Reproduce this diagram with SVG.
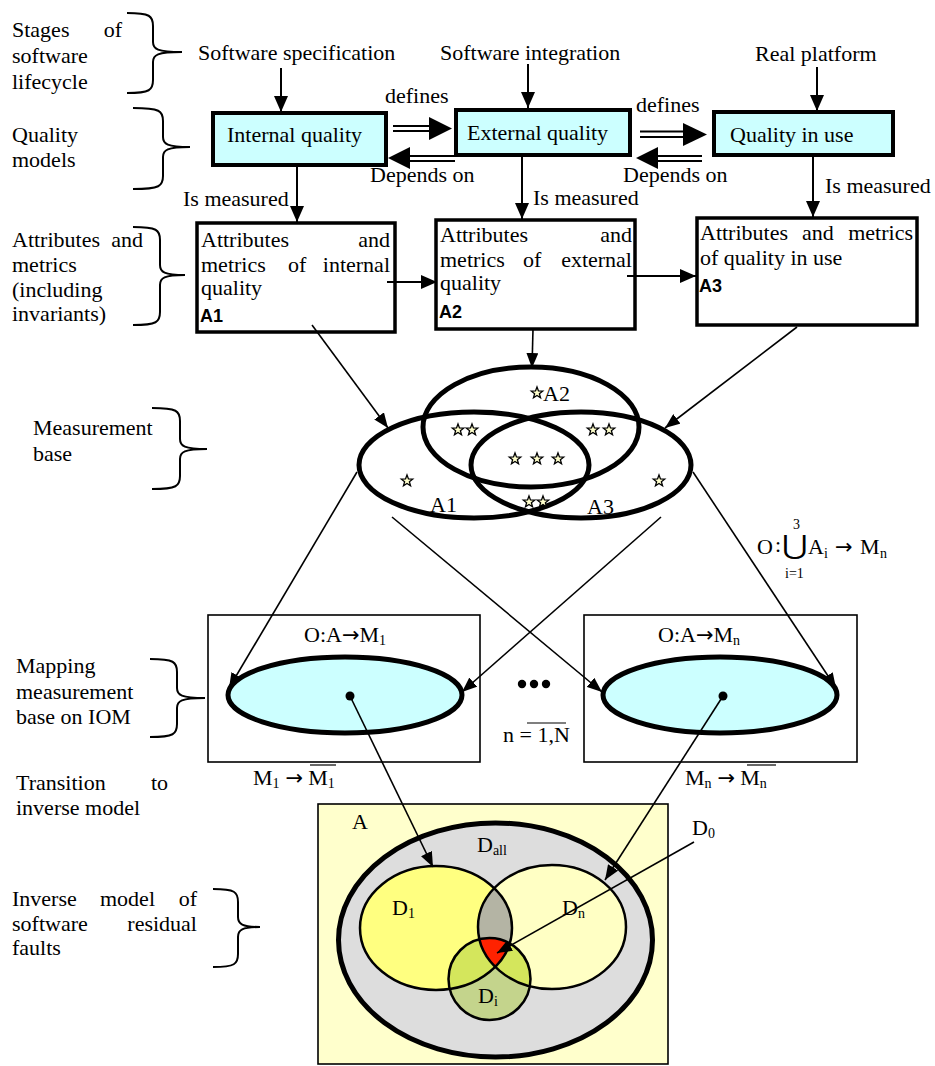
<svg xmlns="http://www.w3.org/2000/svg" width="935" height="1066" viewBox="0 0 935 1066">
<style>
text{font-family:"Liberation Serif","Times New Roman",serif;font-size:22px;fill:#000}
.sub{font-size:14px}
.arr{font-family:"DejaVu Sans",sans-serif;font-size:21px}
.bold{font-family:"Liberation Sans",Arial,sans-serif;font-weight:bold;font-size:18px}
.brace{fill:none;stroke:#000;stroke-width:2}
.qbox{fill:#CCFFFF;stroke:#000;stroke-width:4}
.abox{fill:#fff;stroke:#000;stroke-width:3.5}
.ln{fill:none;stroke:#000;stroke-width:2}
.thin{fill:none;stroke:#000;stroke-width:1.6}
.ell{fill:none;stroke:#000;stroke-width:5}
.map{fill:#CCFFFF;stroke:#000;stroke-width:5}
.mbox{fill:#fff;stroke:#000;stroke-width:1.6}
.star{fill:#FFFFCC;stroke:#000;stroke-width:1.3}
</style>
<defs>
<marker id="ah" markerUnits="userSpaceOnUse" markerWidth="16" markerHeight="14" refX="16" refY="7" orient="auto"><path d="M0,0 L16,7 L0,14 z" fill="#000"/></marker>
<marker id="as" markerUnits="userSpaceOnUse" markerWidth="15" markerHeight="12" refX="15" refY="6" orient="auto"><path d="M0,0 L15,6 L0,12 z" fill="#000"/></marker>
<polygon id="st" points="0,-6 1.47,-2.02 5.71,-1.85 2.38,0.77 3.53,4.85 0,2.5 -3.53,4.85 -2.38,0.77 -5.71,-1.85 -1.47,-2.02"/>
<clipPath id="cD1"><ellipse cx="436" cy="928" rx="76" ry="62"/></clipPath>
<clipPath id="cDn"><ellipse cx="552" cy="927" rx="74" ry="62"/></clipPath>
<clipPath id="cDi"><circle cx="489.5" cy="979" r="41"/></clipPath>
</defs>

<g id="left-labels">
<text x="12" y="37">Stages</text><text x="122" y="37" text-anchor="end">of</text>
<text x="12" y="63">software</text>
<text x="12" y="89">lifecycle</text>
<text x="12" y="142">Quality</text>
<text x="12" y="167">models</text>
<text x="12" y="247">Attributes</text><text x="143" y="247" text-anchor="end">and</text>
<text x="12" y="272">metrics</text>
<text x="12" y="297">(including</text>
<text x="12" y="321">invariants)</text>
<text x="33" y="435">Measurement</text>
<text x="33" y="461">base</text>
<text x="16" y="673">Mapping</text>
<text x="16" y="699">measurement</text>
<text x="16" y="724">base on IOM</text>
<text x="16" y="790">Transition</text><text x="168" y="790" text-anchor="end">to</text>
<text x="16" y="815">inverse model</text>
<text x="12" y="906">Inverse</text><text x="100" y="906">model</text><text x="197" y="906" text-anchor="end">of</text>
<text x="12" y="931">software</text><text x="197" y="931" text-anchor="end">residual</text>
<text x="12" y="955">faults</text>
</g>

<g id="braces">
<path class="brace" d="M127,13 C150,13 153,16 153,26 L153,42 C153,49 157,52 182,52 C157,52 153,55 153,62 L153,80 C153,90 150,93 127,93"/>
<path class="brace" d="M133,108 C160,108 163,111 163,121 L163,137 C163,144 167,147 190,147 C167,147 163,150 163,157 L163,176 C163,186 160,189 133,189"/>
<path class="brace" d="M133,227 C157,227 160,230 160,240 L160,265 C160,272 164,275 185,275 C164,275 160,278 160,285 L160,312 C160,322 157,325 133,325"/>
<path class="brace" d="M152,408 C177,408 180,411 180,421 L180,439 C180,446 184,449 207,449 C184,449 180,452 180,459 L180,476 C180,486 177,489 152,489"/>
<path class="brace" d="M150,659 C174,659 177,662 177,672 L177,688 C177,695 181,698 205,698 C181,698 177,701 177,708 L177,724 C177,734 174,737 150,737"/>
<path class="brace" d="M213,889 C235,889 238,892 238,902 L238,917 C238,924 242,927 260,927 C242,927 238,930 238,937 L238,954 C238,964 235,967 213,967"/>
</g>

<g id="stage-labels">
<text x="198" y="60">Software specification</text>
<text x="440" y="60">Software integration</text>
<text x="755" y="61">Real platform</text>
</g>

<g id="internal-quality">
<rect class="qbox" x="213" y="113" width="173" height="52"/>
<text x="227" y="142">Internal quality</text>
</g>
<g id="external-quality">
<rect class="qbox" x="456" y="110" width="174" height="45"/>
<text x="467" y="140">External quality</text>
</g>
<g id="quality-in-use">
<rect class="qbox" x="714" y="112" width="179" height="43"/>
<text x="730" y="142">Quality in use</text>
</g>

<g id="A1-box">
<rect class="abox" x="197" y="223" width="198" height="109"/>
<text x="201" y="247">Attributes</text><text x="390" y="247" text-anchor="end">and</text>
<text x="201" y="272">metrics</text><text x="288" y="272">of</text><text x="390" y="272" text-anchor="end">internal</text>
<text x="201" y="295">quality</text>
<text class="bold" x="200" y="322">A1</text>
</g>
<g id="A2-box">
<rect class="abox" x="436" y="220" width="199" height="109"/>
<text x="440" y="242">Attributes</text><text x="632" y="242" text-anchor="end">and</text>
<text x="440" y="267">metrics</text><text x="523" y="267">of</text><text x="632" y="267" text-anchor="end">external</text>
<text x="440" y="290">quality</text>
<text class="bold" x="439" y="318">A2</text>
</g>
<g id="A3-box">
<rect class="abox" x="697" y="218" width="220" height="107"/>
<text x="700" y="240">Attributes</text><text x="802" y="240">and</text><text x="913" y="240" text-anchor="end">metrics</text>
<text x="700" y="265">of quality in use</text>
<text class="bold" x="699" y="292">A3</text>
</g>

<g id="measurement-base">
<ellipse class="ell" cx="531" cy="427" rx="108" ry="60"/>
<ellipse class="ell" cx="474" cy="465" rx="115" ry="53"/>
<ellipse class="ell" cx="581" cy="465" rx="110" ry="53"/>
<use href="#st" class="star" x="537" y="393"/>
<text x="543" y="401">A2</text>
<use href="#st" class="star" x="458" y="430"/><use href="#st" class="star" x="472" y="430"/>
<use href="#st" class="star" x="593" y="430"/><use href="#st" class="star" x="609" y="430"/>
<use href="#st" class="star" x="515" y="459"/><use href="#st" class="star" x="537" y="459"/><use href="#st" class="star" x="558" y="459"/>
<use href="#st" class="star" x="407" y="481"/><use href="#st" class="star" x="659" y="481"/>
<use href="#st" class="star" x="529" y="502"/><use href="#st" class="star" x="543" y="502"/>
<text x="430" y="512">A1</text>
<text x="587" y="514">A3</text>
</g>

<g id="formula">
<text x="757" y="554">O</text><text x="775" y="552">:</text>
<text transform="translate(782,554) scale(1.25,1.06)" x="0" y="0" style="font-family:'DejaVu Sans',sans-serif;font-size:25px">⋃</text>
<text class="sub" x="793" y="529">3</text>
<text class="sub" x="785" y="578">i=1</text>
<text x="808" y="554">A</text><text class="sub" x="824" y="558">i</text>
<text class="arr" x="835" y="554">→</text>
<text x="860" y="554">M</text><text class="sub" x="880" y="558">n</text>
</g>

<g id="mapping-1">
<rect class="mbox" x="208" y="615" width="272" height="147"/>
<text x="304" y="642">O:A<tspan class="arr">→</tspan>M<tspan class="sub" dy="3">1</tspan></text>
<ellipse class="map" cx="345" cy="695" rx="117" ry="38"/>
<circle cx="350" cy="696" r="4.5" fill="#000"/>
<text x="253" y="785">M<tspan class="sub" dy="3">1</tspan><tspan class="arr" dx="6" dy="-3">→</tspan><tspan dx="5">M</tspan><tspan class="sub" dy="3">1</tspan></text>
<line x1="310" y1="765" x2="336" y2="765" stroke="#000" stroke-width="1.2"/>
</g>
<g id="mapping-n">
<rect class="mbox" x="584" y="615" width="273" height="147"/>
<text x="658" y="642">O:A<tspan class="arr">→</tspan>M<tspan class="sub" dy="3">n</tspan></text>
<ellipse class="map" cx="720" cy="695" rx="117" ry="38"/>
<circle cx="723" cy="696" r="4.5" fill="#000"/>
<text x="685" y="785">M<tspan class="sub" dy="3">n</tspan><tspan class="arr" dx="6" dy="-3">→</tspan><tspan dx="5">M</tspan><tspan class="sub" dy="3">n</tspan></text>
<line x1="747" y1="765" x2="776" y2="765" stroke="#000" stroke-width="1.2"/>
</g>
<g id="ellipsis">
<circle cx="522" cy="684" r="4.2" fill="#000"/><circle cx="534" cy="684" r="4.2" fill="#000"/><circle cx="546" cy="684" r="4.2" fill="#000"/>
<text x="503" y="742">n = 1,N</text>
<line x1="527" y1="723" x2="566" y2="723" stroke="#000" stroke-width="1.2"/>
</g>

<g id="inverse-model">
<rect x="318" y="804" width="350" height="260" fill="#FFFFCC" stroke="#000" stroke-width="1.6"/>
<text x="352" y="829">A</text>
<ellipse cx="495.5" cy="940" rx="157" ry="117" fill="#DDDDDD" stroke="#000" stroke-width="5"/>
<ellipse cx="436" cy="928" rx="76" ry="62" fill="#FFFF80"/>
<ellipse cx="552" cy="927" rx="74" ry="62" fill="#FFFFC4"/>
<g clip-path="url(#cD1)"><ellipse cx="552" cy="927" rx="74" ry="62" fill="#B4B4A4"/></g>
<circle cx="489.5" cy="979" r="41" fill="#C4D48C"/>
<g clip-path="url(#cDi)"><ellipse cx="436" cy="928" rx="76" ry="62" fill="#D4E65C"/><ellipse cx="552" cy="927" rx="74" ry="62" fill="#D4E65C"/></g>
<g clip-path="url(#cD1)"><g clip-path="url(#cDn)"><circle cx="489.5" cy="979" r="41" fill="#FF2200"/></g></g>
<ellipse cx="436" cy="928" rx="76" ry="62" fill="none" stroke="#000" stroke-width="2.5"/>
<ellipse cx="552" cy="927" rx="74" ry="62" fill="none" stroke="#000" stroke-width="2.5"/>
<circle cx="489.5" cy="979" r="41" fill="none" stroke="#000" stroke-width="2.5"/>
<text x="477" y="852">D<tspan class="sub" dy="3">all</tspan></text>
<text x="392" y="915">D<tspan class="sub" dy="3">1</tspan></text>
<text x="562" y="915">D<tspan class="sub" dy="3">n</tspan></text>
<text x="478" y="1003">D<tspan class="sub" dy="3">i</tspan></text>
<text x="692" y="835">D<tspan class="sub" dy="3">0</tspan></text>
</g>

<g id="connectors">
<line class="ln" x1="281" y1="68" x2="281" y2="112" marker-end="url(#ah)"/>
<line class="ln" x1="528" y1="64" x2="528" y2="108" marker-end="url(#ah)"/>
<line class="ln" x1="817" y1="67" x2="817" y2="111" marker-end="url(#ah)"/>
<path d="M393,126 H432 M393,131 H432" stroke="#000" stroke-width="2"/>
<path d="M429,117 L452,128.5 L429,140 z" fill="#000"/>
<text x="385" y="103">defines</text>
<path d="M640,131.5 H686 M640,137 H686" stroke="#000" stroke-width="2"/>
<path d="M683,123 L707,134.5 L683,146 z" fill="#000"/>
<text x="636" y="112">defines</text>
<path d="M406,156 H455 M406,161 H455" stroke="#000" stroke-width="2"/>
<path d="M410,147 L388,158 L410,169 z" fill="#000"/>
<text x="370" y="182">Depends on</text>
<path d="M655,156 H702 M655,161 H702" stroke="#000" stroke-width="2"/>
<path d="M658,147 L636,158 L658,169 z" fill="#000"/>
<text x="623" y="182">Depends on</text>
<line class="ln" x1="297" y1="165" x2="297" y2="222" marker-end="url(#ah)"/>
<text x="183" y="206">Is measured</text>
<line class="ln" x1="522" y1="155" x2="522" y2="219" marker-end="url(#ah)"/>
<text x="533" y="205">Is measured</text>
<line class="ln" x1="813" y1="155" x2="813" y2="217" marker-end="url(#ah)"/>
<text x="825" y="193">Is measured</text>
<line class="ln" x1="387" y1="282" x2="437" y2="282" marker-end="url(#ah)"/>
<line class="ln" x1="627" y1="276" x2="696" y2="276" marker-end="url(#ah)"/>
<line class="thin" x1="312" y1="325" x2="388" y2="428" marker-end="url(#as)"/>
<line class="thin" x1="533" y1="329" x2="532" y2="368" marker-end="url(#as)"/>
<line class="thin" x1="797" y1="327" x2="665" y2="428" marker-end="url(#as)"/>
<line class="thin" x1="357" y1="472" x2="229" y2="688" marker-end="url(#as)"/>
<line class="thin" x1="661" y1="517" x2="462" y2="692" marker-end="url(#as)"/>
<line class="thin" x1="392" y1="517" x2="602" y2="692" marker-end="url(#as)"/>
<line class="thin" x1="693" y1="472" x2="836" y2="688" marker-end="url(#as)"/>
<line class="thin" x1="350" y1="696" x2="433" y2="867" marker-end="url(#as)"/>
<line class="thin" x1="723" y1="696" x2="605" y2="880" marker-end="url(#as)"/>
<line class="thin" x1="694" y1="842" x2="497" y2="953" marker-end="url(#as)"/>
</g>
</svg>
